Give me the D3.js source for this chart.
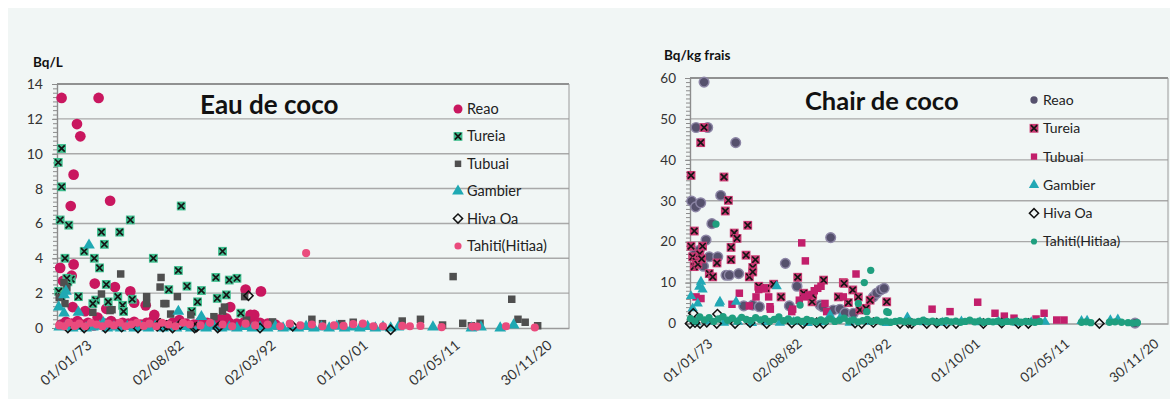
<!DOCTYPE html>
<html>
<head>
<meta charset="utf-8">
<script src="https://cdn.jsdelivr.net/npm/d3@7"></script>
<style>
  html, body { margin: 0; padding: 0; background: #ffffff; }
  svg { display: block; font-family: Lato, "Open Sans", "Liberation Sans", sans-serif; }
</style>
</head>
<body>
<svg id="chart" width="1170" height="399"></svg>
<script>
// ---- Tick labels (dd/mm/yy), shared by both panels ----
const dateTicks = ["01/01/73", "02/08/82", "02/03/92", "01/10/01", "02/05/11", "30/11/20"];
const seriesNames = ["Reao", "Tureia", "Tubuai", "Gambier", "Hiva Oa", "Tahiti(Hitiaa)"];

// ---- Eau de coco (Bq/L) : [decimal year, value] ----
const eauReao = [
  [1970.15,13.2],[1974.0,13.2],[1971.75,11.7],[1972.1,11.0],[1971.4,8.8],[1971.1,7.0],[1975.2,7.3],
  [1970.0,3.45],[1971.4,3.65],[1971.2,3.0],[1970.3,2.7],[1973.6,2.55],[1975.7,2.35],[1977.3,2.1],
  [1977.7,1.45],[1978.9,1.3],[1972.6,0.97],[1971.3,1.2],[1974.8,1.1],[1979.8,0.75],[1973.9,0.6],
  [1987.7,1.2],[1989.3,2.2],[1990.9,2.1],[1990.2,0.75],[1989.8,0.75],[1987.3,0.55],[1986.6,0.5],
  [1970.1,0.2],[1970.6,0.35],[1971.2,0.25],[1971.8,0.4],[1972.3,0.2],[1972.9,0.3],[1973.5,0.15],
  [1974.1,0.35],[1974.7,0.25],[1975.3,0.4],[1975.9,0.2],[1976.5,0.3],[1977.1,0.25],[1977.7,0.35],
  [1978.4,0.2],[1979.0,0.3],[1979.6,0.4],[1980.3,0.25],[1981.0,0.15],[1981.7,0.3],[1982.4,0.45],
  [1983.1,0.25],[1983.9,0.2],[1984.6,0.35],[1985.3,0.3],[1986.0,0.2],[1986.8,0.4],[1987.6,0.3],
  [1988.4,0.25],[1989.2,0.35],[1990.0,0.2],[1990.8,0.3],[1991.6,0.25],[1992.4,0.2]
];
const eauTureia = [
  [1970.15,10.3],[1969.8,9.5],[1970.15,8.1],[1982.6,7.0],[1970.0,6.2],[1970.9,5.9],[1977.3,6.2],
  [1974.3,5.5],[1976.2,5.5],[1974.6,4.8],[1972.5,4.4],[1973.55,4.0],[1970.5,4.0],[1979.7,4.0],
  [1974.1,3.45],[1982.3,3.3],[1971.15,2.8],[1970.8,2.65],[1969.85,2.1],[1983.2,2.4],[1981.3,2.2],
  [1974.8,2.5],[1971.9,1.8],[1976.0,1.8],[1976.5,1.3],[1973.7,1.6],[1973.4,1.4],[1977.5,1.65],
  [1976.6,0.95],[1970.1,1.8],[1970.7,2.85],[1975.0,1.5],
  [1986.9,4.4],[1986.2,2.9],[1987.6,2.75],[1988.4,2.85],[1984.7,2.15],[1986.35,1.7],[1987.3,1.9],
  [1984.3,1.5],[1988.8,0.85],[1983.7,0.95]
];
const eauTubuai = [
  [1976.3,3.1],[1980.5,2.9],[1980.4,2.35],[1979.0,1.8],[1974.3,1.95],[1981.0,1.4],[1982.2,1.8],
  [1970.4,2.6],[1970.7,2.3],[1975.4,1.05],[1973.4,0.9],[1979.0,1.4],[1981.5,0.8],[1970.5,1.4],
  [1969.9,1.75],[1983.6,0.75],[1986.0,0.65],[1987.1,1.2],[1986.9,0.97],[1989.2,1.8],[1989.4,0.45],
  [1992.1,0.35],[1996.2,0.5],[1997.3,0.25],[1999.3,0.25],[2000.5,0.33],[2005.6,0.4],[2007.5,0.5],
  [2009.8,0.17],[2010.9,2.95],[2011.9,0.27],[2012.8,0.13],[2013.7,0.27],[2017.0,1.65],[2017.65,0.5],
  [2018.4,0.33],[2019.7,0.13],[1975.2,1.0],[1980.8,1.4]
];
const eauGambier = [
  [1973.0,4.75],[1970.6,2.1],[1970.4,1.9],[1969.85,1.2],[1982.3,0.95],[1970.4,0.85],[1971.9,0.9],
  [1984.7,0.65],[1974.5,0.3],
  [1969.9,0.05],[1970.6,0.1],[1971.3,0.0],[1972.0,0.08],[1972.7,0.0],[1973.4,0.05],[1974.1,0.1],
  [1974.9,0.0],[1975.6,0.05],[1976.3,0.0],[1977.0,0.08],[1977.7,0.0],[1978.5,0.05],[1979.2,0.0],
  [1979.9,0.1],[1980.7,0.0],[1981.4,0.05],[1982.1,0.0],[1982.9,0.08],[1983.6,0.0],[1984.4,0.05],
  [1985.2,0.0],[1986.0,0.1],[1986.8,0.0],[1987.6,0.05],[1988.4,0.0],[1989.2,0.08],[1990.0,0.0],
  [1990.8,0.05],[1991.6,0.0],[1992.4,0.1],[1993.2,0.0],[1994.0,0.05],[1994.8,0.0],[1995.6,0.08],
  [1996.4,0.0],[1997.2,0.05],[1998.0,0.0],[1998.8,0.1],[1999.6,0.0],[2000.4,0.05],[2001.2,0.0],
  [2002.0,0.08],[2002.8,0.0],[2003.6,0.05],[2004.4,0.0],[2005.2,0.05],[2008.8,0.05],[2012.8,0.0],
  [2013.8,0.05],[2015.8,0.0],[2017.2,0.17]
];
const eauHivaOa = [
  [1970.8,0.0],[1972.5,0.0],[1974.7,0.0],[1976.4,0.05],[1978.1,0.0],[1980.1,0.1],[1980.4,0.27],
  [1980.7,0.05],[1981.1,0.15],[1981.7,0.0],[1982.5,0.2],[1984.0,0.0],[1984.2,0.05],[1986.4,0.0],
  [1986.6,0.1],[1989.6,1.85],[1990.8,0.0],[1994.2,0.1],[2004.4,-0.1]
];
const eauTahiti = [
  [1969.9,0.15],[1970.4,0.1],[1970.9,0.3],[1971.5,0.12],[1972.0,0.25],[1972.6,0.1],[1973.2,0.3],
  [1973.8,0.2],[1974.4,0.1],[1975.0,0.25],[1975.6,0.15],[1976.2,0.3],[1976.8,0.1],[1977.4,0.2],
  [1978.0,0.3],[1978.7,0.12],[1979.3,0.25],[1980.0,0.1],[1980.6,0.3],[1981.3,0.2],[1982.0,0.1],
  [1982.8,0.3],[1983.5,0.2],[1984.6,0.15],[1985.6,0.3],[1986.9,0.2],[1987.9,0.1],[1989.3,0.25],
  [1990.3,0.15],[1991.6,0.2],[1992.9,0.1],[1993.9,0.25],[1995.0,0.15],[1995.6,4.3],[1996.2,0.2],
  [1997.3,0.1],[1998.5,0.15],[1999.5,0.12],[2000.5,0.22],[2001.5,0.25],[2002.6,0.1],[2003.6,0.1],
  [2005.6,0.12],[2006.4,0.1],[2007.5,0.12],[2009.7,0.05],[2012.9,0.08],[2013.4,0.08],[2016.4,0.1],
  [2019.4,0.03]
];

// ---- Chair de coco (Bq/kg frais) : [decimal year, value] ----
const chairReao = [
  [1972.36,59.0],[1971.5,47.9],[1972.75,47.9],[1975.76,44.2],[1971.03,29.9],[1971.46,28.5],
  [1972.0,29.5],[1974.15,31.3],[1973.2,24.4],[1972.57,20.4],[1971.85,17.9],[1972.92,16.3],
  [1973.83,16.3],[1974.72,11.8],[1975.07,11.8],[1976.08,12.2],[1981.09,14.7],[1976.62,4.3],
  [1977.59,4.5],[1978.3,4.1],[1981.52,4.3],[1984.82,4.5],[1985.1,4.1],[1982.34,9.1],[1985.96,21.0],
  [1986.24,3.3],[1986.96,3.5],[1987.5,2.6],[1988.4,2.5],[1990.54,6.5],[1990.9,7.4],[1991.34,8.2],
  [1991.7,8.6],[2018.65,0.1],[1971.3,16.8],[1972.3,14.0]
];
const chairTureia = [
  [1970.96,36.2],[1972.0,44.2],[1972.36,47.9],[1974.5,35.8],[1974.97,30.1],[1974.64,27.5],
  [1977.05,24.0],[1971.31,22.6],[1975.6,22.1],[1975.9,20.8],[1970.96,18.9],[1972.2,18.9],
  [1975.26,18.6],[1971.68,15.9],[1971.14,16.3],[1971.31,13.9],[1975.26,15.6],[1976.87,16.7],
  [1977.87,15.6],[1973.75,14.8],[1977.59,13.7],[1972.92,12.2],[1973.29,11.4],[1977.22,11.4],
  [1977.59,12.6],[1982.42,11.3],[1978.23,9.1],[1979.84,9.6],[1979.0,8.6],[1980.63,6.5],
  [1983.96,5.3],[1985.2,10.6],[1983.06,7.4],[1987.32,10.0],[1986.78,6.5],[1987.86,5.1],
  [1988.33,8.2],[1988.93,6.5],[1989.1,3.3],[1989.76,3.7],[1990.19,5.7],[1991.98,5.3],
  [1984.03,6.95],[1987.4,9.8],[1971.5,15.2],[1971.9,17.0],[1971.7,14.5],[1972.1,15.8]
];
const chairTubuai = [
  [1982.85,19.7],[1983.24,15.3],[1976.15,7.4],[1971.5,6.5],[1972.03,6.1],[1977.94,6.5],
  [1978.23,8.3],[1978.83,8.6],[1979.3,6.5],[1979.48,3.5],[1975.36,4.7],[1977.22,4.3],
  [1981.88,3.5],[1983.6,6.95],[1984.2,8.0],[1984.57,8.6],[1984.92,9.1],[1982.59,5.7],
  [1983.13,6.5],[1988.68,12.1],[1979.44,4.1],[1981.78,2.9],[1985.53,2.9],[1987.32,6.5],
  [1985.35,4.9],[1996.85,3.5],[1998.78,2.9],[2001.75,5.2],[2003.61,2.5],[2004.61,1.8],
  [2005.65,1.3],[2008.02,1.1],[2008.88,2.5],[2010.24,0.85],[2011.02,0.85]
];
const chairGambier = [
  [1972.03,10.2],[1971.85,9.0],[1972.2,8.3],[1970.96,6.7],[1971.68,4.9],[1974.0,4.9],[1975.8,5.3],
  [1980.16,9.1],[1971.14,3.7],[1974.07,5.3],[1985.9,2.1],[1986.96,1.3],[1994.2,1.5],[2008.98,0.4],
  [2012.9,0.6],[2013.5,0.7],[2016.0,0.8],[2016.8,1.0],
  [1971.5,0.3],[1973.0,0.5],[1974.5,0.2],[1976.0,0.4],[1977.5,0.1],[1979.0,0.3],[1980.5,0.2],
  [1982.0,0.4],[1983.5,0.1],[1985.0,0.3],[1988.0,0.2],[1990.0,0.4],[1992.0,0.1],[1996.0,0.3],
  [1998.0,0.2],[2000.0,0.5],[2002.0,0.3],[2004.0,0.4],[2006.0,0.2],[2007.5,0.3]
];
const chairHivaOa = [
  [1970.85,0.0],[1971.2,2.5],[1971.39,0.2],[1971.93,0.0],[1972.65,0.3],[1973.72,0.0],[1973.8,2.3],
  [1975.69,0.0],[1977.3,0.2],[1979.09,0.0],[1981.78,0.1],[1982.99,0.0],[1984.46,0.2],[1985.17,0.0],
  [1988.58,0.1],[1989.29,0.0],[1990.54,0.2],[1993.41,0.0],[1994.3,0.1],[1994.67,0.0],[1996.28,0.0],
  [1997.35,0.1],[1998.42,0.0],[1999.42,0.0],[2002.36,0.0],[2004.33,0.1],[2006.12,0.0],[2007.19,0.0],
  [2014.82,0.0]
];
const chairTahiti = [
  [1973.64,24.3],[1990.26,13.0],[1989.57,10.0],[1992.15,2.7],[1982.67,4.5],[1988.93,4.9],
  [1989.83,2.9],[1991.98,2.9],
  [1970.9,1.2],[1971.4,0.6],[1971.9,1.6],[1972.4,0.9],[1972.9,1.4],[1973.4,0.5],[1973.9,1.1],
  [1974.4,1.7],[1974.9,0.8],[1975.4,1.3],[1975.9,0.6],[1976.4,1.5],[1976.9,1.0],[1977.4,0.7],
  [1977.9,1.4],[1978.4,0.9],[1978.9,1.2],[1979.4,0.5],[1979.9,1.0],[1980.4,1.6],[1980.9,0.7],
  [1981.4,1.1],[1981.9,0.6],[1982.4,0.9],[1982.9,0.5],[1983.4,1.0],[1983.9,0.7],[1984.4,0.4],
  [1984.9,0.9],[1985.4,0.6],[1985.9,1.1],[1986.4,0.5],[1986.9,0.8],[1987.4,1.3],[1987.9,0.6],
  [1988.4,0.9],[1988.9,0.4],[1989.4,0.7],[1989.9,1.0],[1990.4,0.5],[1990.9,0.8],[1991.4,0.4],
  [1991.9,0.6],[1992.4,0.3],[1992.9,0.5],[1993.4,0.7],[1993.9,0.4],[1994.4,0.6],[1994.9,0.3],
  [1995.4,0.5],[1995.9,0.8],[1996.4,0.4],[1996.9,0.6],[1997.4,0.3],[1997.9,0.5],[1998.4,0.7],
  [1998.9,0.4],[1999.4,0.6],[1999.9,0.3],[2000.4,0.5],[2000.9,0.8],[2001.4,0.4],[2001.9,0.6],
  [2002.4,0.3],[2002.9,0.5],[2003.4,0.4],[2003.9,0.6],[2004.4,0.3],[2004.9,0.5],[2005.4,0.4],
  [2005.9,0.6],[2006.4,0.3],[2006.9,0.5],[2007.4,0.4],[2007.9,0.3],[2008.4,0.5],
  [2012.9,0.3],[2013.4,0.4],[2013.9,0.2],[2015.9,0.3],[2016.5,0.4],[2017.2,0.3],[2017.9,0.2],
  [2018.4,0.1],[2018.9,0.2]
];

// ---- helpers ----
const parseTick = d3.timeParse("%d/%m/%y");
const fmtTick = d3.timeFormat("%d/%m/%y");
function yearToDate(y) {
  const yr = Math.floor(y);
  const start = new Date(yr, 0, 1), end = new Date(yr + 1, 0, 1);
  return new Date(+start + (y - yr) * (end - start));
}

const svg = d3.select("#chart");
svg.append("rect").attr("width", 1170).attr("height", 399).attr("fill", "#ffffff");
svg.append("rect").attr("x", 8).attr("y", 8).attr("width", 1162).attr("height", 391).attr("fill", "#f1f6f5");

// marker painters
function drawMarker(g, kind, st, cx, cy) {
  const t = `translate(${cx},${cy})`;
  if (kind === "circle") {
    g.append("path").attr("transform", t)
      .attr("d", d3.symbol(d3.symbolCircle, st.size)())
      .attr("fill", st.fill).attr("stroke", st.stroke || "none").attr("stroke-width", st.sw || 0);
  } else if (kind === "square") {
    g.append("path").attr("transform", t)
      .attr("d", d3.symbol(d3.symbolSquare, st.size)()).attr("fill", st.fill);
  } else if (kind === "squareX") {
    g.append("path").attr("transform", t)
      .attr("d", d3.symbol(d3.symbolSquare, st.size)()).attr("fill", st.fill);
    g.append("path").attr("transform", t)
      .attr("d", d3.symbol(d3.symbolX, st.xsize)())
      .attr("fill", "none").attr("stroke", "#161616").attr("stroke-width", 1.7);
  } else if (kind === "triangle") {
    g.append("path").attr("transform", t)
      .attr("d", d3.symbol(d3.symbolTriangle, st.size)()).attr("fill", st.fill);
  } else if (kind === "diamond") {
    g.append("path").attr("transform", t + " rotate(45)")
      .attr("d", d3.symbol(d3.symbolSquare, st.size)())
      .attr("fill", "none").attr("stroke", st.stroke).attr("stroke-width", 1.5);
  }
}

function drawPanel(cfg) {
  const g = svg.append("g");
  const x = d3.scaleTime().domain([yearToDate(cfg.xFrom), yearToDate(cfg.xTo)]).range([cfg.left, cfg.right]);
  const y = d3.scaleLinear().domain([0, cfg.yMax]).range([cfg.bottom, cfg.top]);
  const majors = d3.range(0, cfg.yMax + cfg.yStep / 2, cfg.yStep);
  const minors = d3.range(0, cfg.yMax + cfg.yMinor / 2, cfg.yMinor);

  // horizontal gridlines
  g.append("g").selectAll("line").data(majors.filter(v => v > 0)).join("line")
    .attr("x1", cfg.left).attr("x2", cfg.right)
    .attr("y1", d => y(d)).attr("y2", d => y(d))
    .attr("stroke", d => d === cfg.yMax ? "#6f6f6f" : "#a9a9a9")
    .attr("stroke-width", d => d === cfg.yMax ? 1.6 : 1.4);
  // right border of the plot area
  g.append("line").attr("x1", cfg.right).attr("x2", cfg.right)
    .attr("y1", cfg.top).attr("y2", cfg.bottom)
    .attr("stroke", "#9a9a9a").attr("stroke-width", 1);

  // y axis: minor ticks then labelled major ticks
  const yMinorAxis = g.append("g").attr("transform", `translate(${cfg.left},0)`)
    .call(d3.axisLeft(y).tickValues(minors).tickSize(4).tickFormat(""));
  const yAxis = g.append("g").attr("transform", `translate(${cfg.left},0)`)
    .call(d3.axisLeft(y).tickValues(majors).tickSize(5).tickPadding(9).tickFormat(d3.format("d")));
  [yMinorAxis, yAxis].forEach(a => {
    a.select(".domain").attr("stroke", "#8c8c8c").attr("stroke-width", 1.2);
    a.selectAll(".tick line").attr("stroke", "#8c8c8c");
  });
  yAxis.selectAll("text").attr("fill", "#333").style("font-size", cfg.tickFont + "px")
    .style("font-family", "Lato, sans-serif");

  // x axis with rotated date labels
  const tickDates = dateTicks.map(parseTick);
  const xAxis = g.append("g").attr("transform", `translate(0,${cfg.bottom})`)
    .call(d3.axisBottom(x).tickValues(tickDates).tickSize(0).tickFormat(fmtTick));
  xAxis.select(".domain").attr("stroke", "#9a9a9a").attr("stroke-width", 1.4);
  xAxis.selectAll("text")
    .attr("x", 0).attr("y", 0).attr("dy", "0.35em")
    .attr("transform", `translate(0,${cfg.xLabelDrop}) rotate(-40)`)
    .style("text-anchor", "end").style("font-size", cfg.tickFont + "px")
    .style("font-family", "Lato, sans-serif").attr("fill", "#333");

  // data marks
  const marks = g.append("g");
  cfg.series.forEach(s => {
    const sg = marks.append("g");
    s.data.forEach(d => drawMarker(sg, s.kind, s.style, x(yearToDate(d[0])), y(d[1])));
  });

  // title & unit
  g.append("text").attr("x", cfg.titleX).attr("y", cfg.titleY).text(cfg.title)
    .style("font-size", cfg.titleFont + "px").style("font-weight", "700").attr("fill", "#111");
  g.append("text").attr("x", cfg.unitX).attr("y", cfg.unitY).text(cfg.unit)
    .style("font-size", cfg.unitFont + "px").style("font-weight", "700").attr("fill", "#111");

  // legend
  const lg = g.append("g");
  cfg.series.forEach((s, i) => {
    const ly = cfg.legY + i * cfg.legStep;
    drawMarker(lg, s.kind, s.legStyle || s.style, cfg.legX, ly);
    lg.append("text").attr("x", cfg.legX + 9).attr("y", ly).attr("dy", "0.35em")
      .text(seriesNames[i]).style("font-size", cfg.legFont + "px").attr("fill", "#222");
  });
}

drawPanel({
  left: 57, right: 569, top: 84, bottom: 328,
  xFrom: 1969.67, xTo: 2022.96, yMax: 14, yStep: 2, yMinor: 0.25,
  tickFont: 14, xLabelDrop: 15,
  title: "Eau de coco", titleX: 200, titleY: 114, titleFont: 26,
  unit: "Bq/L", unitX: 33, unitY: 67, unitFont: 13.5,
  legX: 458, legY: 109, legStep: 27.4, legFont: 14.5,
  series: [
    { data: eauReao, kind: "circle", style: { size: 90, fill: "#c9175f" }, legStyle: { size: 64, fill: "#c9175f" } },
    { data: eauTureia, kind: "squareX", style: { size: 78, xsize: 28, fill: "#3fbf8f" } },
    { data: eauTubuai, kind: "square", style: { size: 56, fill: "#4f4f4f" }, legStyle: { size: 42, fill: "#4f4f4f" } },
    { data: eauGambier, kind: "triangle", style: { size: 60, fill: "#1fa9b3" } },
    { data: eauHivaOa, kind: "diamond", style: { size: 42, stroke: "#111" } },
    { data: eauTahiti, kind: "circle", style: { size: 52, fill: "#ea4b7d" }, legStyle: { size: 40, fill: "#ea4b7d" } }
  ]
});

drawPanel({
  left: 690, right: 1168, top: 78, bottom: 323.5,
  xFrom: 1970.85, xTo: 2022.19, yMax: 60, yStep: 10, yMinor: 1,
  tickFont: 13.5, xLabelDrop: 18,
  title: "Chair de coco", titleX: 805, titleY: 110, titleFont: 25.5,
  unit: "Bq/kg frais", unitX: 664, unitY: 60, unitFont: 13.5,
  legX: 1034, legY: 100, legStep: 28.3, legFont: 14,
  series: [
    { data: chairReao, kind: "circle", style: { size: 74, fill: "#56516d", stroke: "#8d86a6", sw: 1.4 }, legStyle: { size: 42, fill: "#56516d" } },
    { data: chairTureia, kind: "squareX", style: { size: 78, xsize: 28, fill: "#cc3a73" } },
    { data: chairTubuai, kind: "square", style: { size: 56, fill: "#c21f6b" }, legStyle: { size: 40, fill: "#c21f6b" } },
    { data: chairGambier, kind: "triangle", style: { size: 46, fill: "#22a8b5" } },
    { data: chairHivaOa, kind: "diamond", style: { size: 42, stroke: "#111" } },
    { data: chairTahiti, kind: "circle", style: { size: 42, fill: "#1f9f7f" }, legStyle: { size: 30, fill: "#1f9f7f" } }
  ]
});
</script>
</body>
</html>
